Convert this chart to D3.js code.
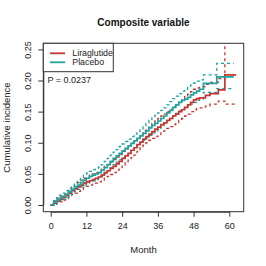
<!DOCTYPE html>
<html>
<head>
<meta charset="utf-8">
<script src="https://cdn.jsdelivr.net/npm/d3@7"></script>
<style>
  body { margin: 0; background: #fff; }
  svg { display: block; font-family: "Liberation Sans", Arial, sans-serif; }
</style>
</head>
<body>
<div id="chart"></div>
<script>
// cumulative incidence (months / proportion)
var placeboTime = [0, 1, 2, 3, 4, 5, 6, 7, 8, 9, 10, 11, 12, 13, 14, 15, 16, 17, 18, 19, 20, 21, 22, 23, 24, 25, 26, 27, 28, 29, 30, 31, 32, 33, 34, 35, 36, 37, 38, 39, 40, 41, 42, 43, 44, 45, 46, 47, 48, 49, 50, 51.3, 55.8, 61.5];
var placeboEst = [0, .004, .008, .011, .014, .017, .021, .025, .029, .032, .036, .040, .043, .046, .048, .050, .052, .056, .060, .065, .070, .075, .079, .083, .087, .091, .095, .099, .103, .107, .111, .115, .119, .124, .128, .131, .135, .139, .143, .148, .152, .157, .161, .165, .168, .170, .173, .177, .180, .183, .186, .1955, .206, .206];
var placeboUpper = [0, .007, .012, .016, .019, .023, .027, .031, .036, .039, .044, .048, .051, .054, .057, .059, .061, .065, .070, .075, .080, .085, .089, .094, .098, .102, .106, .110, .114, .118, .122, .127, .131, .136, .140, .144, .148, .152, .156, .161, .166, .171, .175, .179, .183, .186, .189, .193, .196, .199, .201, .209, .2276, .2276];
var placeboLower = [0, .001, .004, .007, .009, .012, .015, .019, .022, .025, .029, .032, .035, .037, .039, .041, .043, .046, .050, .055, .060, .065, .069, .073, .076, .080, .084, .088, .092, .096, .100, .104, .108, .112, .116, .119, .123, .127, .131, .135, .139, .143, .147, .151, .154, .156, .159, .162, .165, .168, .170, .181, .187, .187];

var liraTime = [0, 1, 2, 3, 4, 5, 6, 7, 8, 9, 10, 11, 12, 13, 14, 15, 16, 17, 18, 19, 20, 21, 22, 23, 24, 25, 26, 27, 28, 29, 30, 31, 32, 33, 34, 35, 36, 37, 38, 39, 40, 41, 42, 43, 44, 45, 46, 47, 48, 49, 50, 52, 53.5, 56.3, 58.5, 62.3];
var liraEst = [0, .003, .006, .009, .012, .015, .019, .023, .026, .029, .032, .035, .037, .039, .041, .043, .045, .048, .052, .055, .059, .062, .066, .070, .075, .079, .083, .088, .092, .097, .101, .106, .110, .114, .118, .122, .125, .129, .132, .136, .139, .143, .146, .150, .153, .157, .161, .165, .169, .171, .172, .176, .179, .185, .209, .209];
var liraUpper = [0, .006, .010, .014, .017, .021, .025, .029, .033, .036, .040, .043, .045, .048, .050, .052, .054, .058, .062, .065, .069, .073, .077, .081, .086, .090, .095, .100, .104, .109, .114, .119, .123, .127, .131, .135, .139, .143, .146, .150, .154, .158, .161, .165, .169, .174, .178, .182, .186, .188, .190, .194, .197, .203, .275, .275];
var liraLower = [0, .001, .003, .005, .008, .010, .013, .017, .019, .022, .025, .028, .030, .032, .033, .035, .037, .040, .043, .046, .049, .052, .056, .060, .064, .068, .072, .076, .080, .086, .092, .096, .100, .104, .107, .110, .113, .116, .119, .123, .126, .129, .132, .136, .139, .143, .146, .150, .153, .155, .156, .159, .162, .167, .162, .162];

var groups = ["Liraglutide", "Placebo"];
var colors = ["#c8352f", "#1ba4a0"];
var xTicks = [0, 12, 24, 36, 48, 60];
var yTicks = [0, 0.05, 0.10, 0.15, 0.20, 0.25];
var pLabel = "P = 0.0237";

var W = 266, H = 266;
var box = { left: 43.3, right: 243.7, top: 43.3, bottom: 211.7 };

var svg = d3.select("#chart").append("svg")
    .attr("width", W)
    .attr("height", H);

var x = d3.scaleLinear().domain([0, 60]).range([50.7, 229.3]);
var y = d3.scaleLinear().domain([0, 0.25]).range([205, 49.4]);

svg.append("defs").append("clipPath").attr("id", "plotClip")
    .append("rect")
    .attr("x", box.left).attr("y", box.top)
    .attr("width", box.right - box.left).attr("height", box.bottom - box.top);

var line = d3.line()
    .x(function(d) { return x(d[0]) })
    .y(function(d) { return y(d[1]) })
    .curve(d3.curveStepAfter);

function pairs(t, v) {
    return t.map(function(d, i) { return [d, v[i]] });
}

var curves = [
    { data: pairs(liraTime, liraLower), col: colors[0], dash: true },
    { data: pairs(liraTime, liraUpper), col: colors[0], dash: true },
    { data: pairs(placeboTime, placeboLower), col: colors[1], dash: true },
    { data: pairs(placeboTime, placeboUpper), col: colors[1], dash: true },
    { data: pairs(liraTime, liraEst), col: colors[0], dash: false },
    { data: pairs(placeboTime, placeboEst), col: colors[1], dash: false }
];

var plot = svg.append("g").attr("clip-path", "url(#plotClip)");

plot.selectAll("path")
    .data(curves)
    .enter()
    .append("path")
    .attr("d", function(d) { return line(d.data) })
    .attr("fill", "none")
    .attr("stroke", function(d) { return d.col })
    .attr("stroke-width", function(d) { return d.dash ? 1.3 : 1.7 })
    .attr("stroke-dasharray", function(d) { return d.dash ? "3,3" : null });

// plot frame
svg.append("rect")
    .attr("x", box.left).attr("y", box.top)
    .attr("width", box.right - box.left).attr("height", box.bottom - box.top)
    .attr("fill", "none")
    .attr("stroke", "#333")
    .attr("stroke-width", 1);

// x axis
var xAxis = svg.append("g")
    .attr("transform", "translate(0," + box.bottom + ")")
    .call(d3.axisBottom(x).tickValues(xTicks).tickSize(5).tickSizeOuter(0).tickPadding(6));
xAxis.select(".domain").attr("stroke", "#333");
xAxis.selectAll(".tick line").attr("stroke", "#333");
xAxis.selectAll(".tick text")
    .attr("font-size", 9)
    .attr("font-family", "Liberation Sans, Arial, sans-serif")
    .attr("fill", "#222");

// y axis
var yAxis = svg.append("g")
    .attr("transform", "translate(" + box.left + ",0)")
    .call(d3.axisLeft(y).tickValues(yTicks).tickSize(5).tickSizeOuter(0).tickFormat(d3.format(".2f")));
yAxis.select(".domain").attr("stroke", "#333");
yAxis.selectAll(".tick line").attr("stroke", "#333");
yAxis.selectAll(".tick text")
    .attr("font-size", 9)
    .attr("font-family", "Liberation Sans, Arial, sans-serif")
    .attr("fill", "#222")
    .attr("x", null).attr("dy", null)
    .attr("text-anchor", "middle")
    .attr("transform", "translate(-12.4,0) rotate(-90)");

// titles
svg.append("text")
    .attr("x", 143.5).attr("y", 25.7)
    .attr("text-anchor", "middle")
    .attr("font-size", 10)
    .attr("font-weight", "bold")
    .attr("fill", "#111")
    .text("Composite variable");

svg.append("text")
    .attr("x", 143.5).attr("y", 252.5)
    .attr("text-anchor", "middle")
    .attr("font-size", 9.5)
    .attr("fill", "#222")
    .text("Month");

svg.append("text")
    .attr("transform", "translate(10.3," + ((box.top + box.bottom) / 2) + ") rotate(-90)")
    .attr("text-anchor", "middle")
    .attr("font-size", 9.5)
    .attr("fill", "#222")
    .text("Cumulative incidence");

// legend
var legend = svg.append("g");
legend.append("rect")
    .attr("x", box.left).attr("y", box.top)
    .attr("width", 70).attr("height", 28.4)
    .attr("fill", "#fff")
    .attr("stroke", "#333")
    .attr("stroke-width", 1);

var items = legend.selectAll(".item")
    .data(groups)
    .enter().append("g")
    .attr("class", "item")
    .attr("transform", function(d, i) { return "translate(0," + (53.3 + i * 9) + ")" });

items.append("line")
    .attr("x1", 50).attr("x2", 65)
    .attr("stroke", function(d, i) { return colors[i] })
    .attr("stroke-width", 1.8);

items.append("text")
    .attr("x", 72.3).attr("y", 3.1)
    .attr("font-size", 8.8)
    .attr("fill", "#222")
    .text(function(d) { return d });

svg.append("text")
    .attr("x", 47.5).attr("y", 83.3)
    .attr("font-size", 9)
    .attr("fill", "#222")
    .text(pLabel);
</script>
</body>
</html>
